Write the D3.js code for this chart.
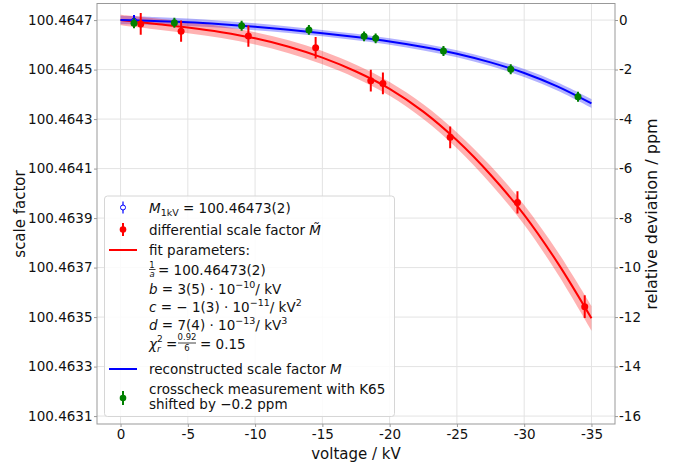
<!DOCTYPE html>
<html>
<head>
<meta charset="utf-8">
<script src="https://cdn.jsdelivr.net/npm/d3@7"></script>
<style>
  body { margin: 0; background: #fff; }
  svg { display: block; font-family: 'DejaVu Sans', sans-serif; }
</style>
</head>
<body>
<script>
// ---- data (voltage in kV, deviation in ppm) ----
const fitVoltage   = [0, -2.5, -5, -7.5, -10, -12.5, -15, -17.5, -20, -22.5, -25, -27.5, -30, -32.5, -35]
const redFit       = [0, -0.15, -0.30, -0.49, -0.74, -1.08, -1.52, -2.08, -2.78, -3.70, -4.86, -6.25, -7.87, -9.82, -12.05]
const redBand      = [0.21, 0.22, 0.23, 0.24, 0.25, 0.26, 0.27, 0.27, 0.28, 0.30, 0.32, 0.36, 0.40, 0.45, 0.50]
const blueFit      = [0, -0.04, -0.09, -0.17, -0.27, -0.39, -0.53, -0.69, -0.87, -1.09, -1.36, -1.71, -2.14, -2.69, -3.37]
const blueBand     = [0.17, 0.16, 0.15, 0.14, 0.14, 0.13, 0.13, 0.13, 0.13, 0.14, 0.14, 0.15, 0.16, 0.17, 0.18]

const redVoltage   = [-1.5, -4.5, -9.5, -14.5, -18.6, -19.5, -24.5, -29.5, -34.5]
const redValue     = [-0.16, -0.45, -0.65, -1.12, -2.45, -2.56, -4.74, -7.37, -11.58]
const redErr       = [0.44, 0.43, 0.43, 0.43, 0.44, 0.44, 0.44, 0.45, 0.46]

const greenVoltage = [-1, -4, -9, -14, -18.1, -18.96, -24, -29, -34]
const greenValue   = [-0.13, -0.11, -0.23, -0.40, -0.66, -0.74, -1.25, -1.99, -3.10]
const greenErr     = [0.2, 0.2, 0.2, 0.2, 0.2, 0.2, 0.2, 0.2, 0.2]

const blueVoltage  = [-1]
const blueValue    = [-0.02]
const blueErr      = [0.22]

const xTicks      = [0, -5, -10, -15, -20, -25, -30, -35]
const leftTicks   = [100.4647, 100.4645, 100.4643, 100.4641, 100.4639, 100.4637, 100.4635, 100.4633, 100.4631]
const rightTicks  = [0, -2, -4, -6, -8, -10, -12, -14, -16]

const width = 677
const height = 462
const plot = { left: 97, right: 615, top: 3.5, bottom: 424 }

const svg = d3.select('body').append('svg')
  .attr('width', width)
  .attr('height', height)

const x = d3.scaleLinear().domain([1.75, -36.75]).range([plot.left, plot.right])
const yR = d3.scaleLinear().domain([0.667, -16.32]).range([plot.top, plot.bottom])
const yL = d3.scaleLinear().domain([100.464767, 100.463068]).range([plot.top, plot.bottom])

// grid
const grid = svg.append('g')
grid.selectAll('.gx').data(xTicks).enter().append('line')
  .attr('x1', d => x(d)).attr('x2', d => x(d))
  .attr('y1', plot.top).attr('y2', plot.bottom)
  .attr('stroke', '#e3e3e3').attr('stroke-width', 1)
grid.selectAll('.gy').data(leftTicks).enter().append('line')
  .attr('x1', plot.left).attr('x2', plot.right)
  .attr('y1', d => yL(d)).attr('y2', d => yL(d))
  .attr('stroke', '#e3e3e3').attr('stroke-width', 1)

const clip = svg.append('clipPath').attr('id', 'clip')
clip.append('rect').attr('x', plot.left).attr('y', plot.top)
  .attr('width', plot.right - plot.left).attr('height', plot.bottom - plot.top)
const g = svg.append('g').attr('clip-path', 'url(#clip)')

const fitRows = fitVoltage.map((v, i) => ({
  v, red: redFit[i], rb: redBand[i], blue: blueFit[i], bb: blueBand[i]
}))

const curve = d3.curveCatmullRom
const bandArea = (key, hw) => d3.area()
  .x(d => x(d.v))
  .y0(d => yR(d[key] - d[hw]))
  .y1(d => yR(d[key] + d[hw]))
  .curve(curve)
const fitLine = key => d3.line().x(d => x(d.v)).y(d => yR(d[key])).curve(curve)

g.append('path').datum(fitRows).attr('d', bandArea('blue', 'bb'))
  .attr('fill', 'blue').attr('fill-opacity', 0.3)
g.append('path').datum(fitRows).attr('d', bandArea('red', 'rb'))
  .attr('fill', 'red').attr('fill-opacity', 0.3)
g.append('path').datum(fitRows).attr('d', fitLine('red'))
  .attr('fill', 'none').attr('stroke', 'red').attr('stroke-width', 2)
g.append('path').datum(fitRows).attr('d', fitLine('blue'))
  .attr('fill', 'none').attr('stroke', 'blue').attr('stroke-width', 2)

function errorbars(vs, vals, errs, color, hollow) {
  const rows = vs.map((v, i) => ({ v, y: vals[i], e: errs[i] }))
  const gg = g.append('g')
  gg.selectAll('line').data(rows).enter().append('line')
    .attr('x1', d => x(d.v)).attr('x2', d => x(d.v))
    .attr('y1', d => yR(d.y + d.e)).attr('y2', d => yR(d.y - d.e))
    .attr('stroke', color).attr('stroke-width', 2)
  gg.selectAll('circle').data(rows).enter().append('circle')
    .attr('cx', d => x(d.v)).attr('cy', d => yR(d.y))
    .attr('r', hollow ? 2.5 : 3.5)
    .attr('fill', hollow ? 'none' : color)
    .attr('stroke', color).attr('stroke-width', hollow ? 1 : 0)
}
errorbars(blueVoltage, blueValue, blueErr, 'blue', true)
errorbars(redVoltage, redValue, redErr, 'red', false)
errorbars(greenVoltage, greenValue, greenErr, 'green', false)

// axes
const axisStyle = sel => {
  sel.select('.domain').remove()
  sel.selectAll('.tick line').attr('stroke', '#999')
  sel.selectAll('.tick text').attr('fill', '#111').attr('font-size', '13.5px')
    .attr('font-family', "'DejaVu Sans', sans-serif")
}
svg.append('g')
  .attr('transform', `translate(0,${plot.bottom})`)
  .call(d3.axisBottom(x).tickValues(xTicks).tickFormat(d => String(d)).tickSize(3).tickPadding(2))
  .call(axisStyle)
svg.append('g')
  .attr('transform', `translate(${plot.left},0)`)
  .call(d3.axisLeft(yL).tickValues(leftTicks).tickFormat(d3.format('.4f')).tickSize(3).tickPadding(1.5))
  .call(axisStyle)
svg.append('g')
  .attr('transform', `translate(${plot.right},0)`)
  .call(d3.axisRight(yR).tickValues(rightTicks).tickFormat(d => String(d)).tickSize(3).tickPadding(1))
  .call(axisStyle)

svg.append('rect')
  .attr('x', plot.left).attr('y', plot.top)
  .attr('width', plot.right - plot.left).attr('height', plot.bottom - plot.top)
  .attr('fill', 'none').attr('stroke', '#999').attr('stroke-width', 1)

// axis labels
svg.append('text').attr('x', 356).attr('y', 459).attr('text-anchor', 'middle')
  .attr('font-size', '15px').attr('fill', '#111').text('voltage / kV')
svg.append('text').attr('transform', `translate(25,214) rotate(-90)`).attr('text-anchor', 'middle')
  .attr('font-size', '15px').attr('fill', '#111').text('scale factor')
svg.append('text').attr('transform', `translate(657,214) rotate(-90)`).attr('text-anchor', 'middle')
  .attr('font-size', '16px').attr('fill', '#111').text('relative deviation / ppm')

// legend
const lg = svg.append('g').attr('font-size', '13.5px').attr('fill', '#111')
lg.append('rect').attr('x', 104.5).attr('y', 196).attr('width', 290).attr('height', 220.5)
  .attr('rx', 3).attr('fill', '#fff').attr('fill-opacity', 0.85)
  .attr('stroke', '#d6d6d6').attr('stroke-width', 1)

const hx = 123
const tx = 149
function legMarker(y, color, hollow, half) {
  lg.append('line').attr('x1', hx).attr('x2', hx).attr('y1', y - half).attr('y2', y + half)
    .attr('stroke', color).attr('stroke-width', hollow ? 1.2 : 2)
  lg.append('circle').attr('cx', hx).attr('cy', y).attr('r', hollow ? 2.5 : 3.3)
    .attr('fill', hollow ? '#fff' : color).attr('stroke', color).attr('stroke-width', hollow ? 1 : 0)
}
function legLine(y, color) {
  lg.append('line').attr('x1', 109).attr('x2', 137).attr('y1', y).attr('y2', y)
    .attr('stroke', color).attr('stroke-width', 2)
}
const base = y => y + 5

// M_1kV
legMarker(207.5, 'blue', true, 6)
let t = lg.append('text').attr('x', tx).attr('y', base(207.5))
t.append('tspan').attr('font-style', 'italic').text('M')
t.append('tspan').attr('font-size', '9.5px').attr('dy', 3).text('1kV')
t.append('tspan').attr('dy', -3).text(' = 100.46473(2)')

// differential scale factor, M with combining tilde
legMarker(229.5, 'red', false, 6.5)
t = lg.append('text').attr('x', tx).attr('y', base(229.5))
t.append('tspan').text('differential scale factor ')
t.append('tspan').attr('font-style', 'italic').text('M\u0303')

// fit parameters
legLine(250, 'red')
lg.append('text').attr('x', tx).attr('y', base(250)).text('fit parameters:')

// 1/a
lg.append('text').attr('x', tx + 3).attr('y', 267.5).attr('font-size', '8.5px').attr('text-anchor', 'middle').text('1')
lg.append('line').attr('x1', tx).attr('x2', tx + 6.5).attr('y1', 269.5).attr('y2', 269.5).attr('stroke', '#111').attr('stroke-width', 0.8)
lg.append('text').attr('x', tx + 3).attr('y', 277).attr('font-size', '8.5px').attr('font-style', 'italic').attr('text-anchor', 'middle').text('a')
lg.append('text').attr('x', tx + 9).attr('y', base(270)).text('= 100.46473(2)')

function paramLine(y, sym, val, exp, unitPow) {
  const tt = lg.append('text').attr('x', tx).attr('y', base(y))
  tt.append('tspan').attr('font-style', 'italic').text(sym)
  tt.append('tspan').text(val + ' · 10')
  tt.append('tspan').attr('font-size', '9.5px').attr('dy', -6).text(exp)
  tt.append('tspan').attr('dy', 6).text('/ kV')
  if (unitPow) tt.append('tspan').attr('font-size', '9.5px').attr('dy', -6).text(unitPow)
}
paramLine(289, 'b', ' = 3(5)', '−10', null)
paramLine(307, 'c', ' = − 1(3)', '−11', '2')
paramLine(325, 'd', ' = 7(4)', '−13', '3')

// chi^2
const cy = base(343.5)
lg.append('text').attr('x', tx).attr('y', cy).attr('font-style', 'italic').text('χ')
lg.append('text').attr('x', 157).attr('y', cy + 3.5).attr('font-size', '9px').attr('font-style', 'italic').text('r')
lg.append('text').attr('x', 157).attr('y', cy - 6.5).attr('font-size', '9px').text('2')
lg.append('text').attr('x', 166).attr('y', cy).text('=')
lg.append('text').attr('x', 187).attr('y', 340).attr('font-size', '8.5px').attr('text-anchor', 'middle').text('0.92')
lg.append('line').attr('x1', 178).attr('x2', 196).attr('y1', 343).attr('y2', 343).attr('stroke', '#111').attr('stroke-width', 0.8)
lg.append('text').attr('x', 187).attr('y', 351).attr('font-size', '8.5px').attr('text-anchor', 'middle').text('6')
lg.append('text').attr('x', 200).attr('y', cy).text('= 0.15')

// reconstructed
legLine(369, 'blue')
t = lg.append('text').attr('x', tx).attr('y', base(369))
t.append('tspan').text('reconstructed scale factor ')
t.append('tspan').attr('font-style', 'italic').text('M')

// crosscheck
legMarker(398, 'green', false, 7)
lg.append('text').attr('x', tx).attr('y', base(389)).text('crosscheck measurement with K65')
lg.append('text').attr('x', tx).attr('y', base(404)).text('shifted by −0.2 ppm')
</script>
</body>
</html>
